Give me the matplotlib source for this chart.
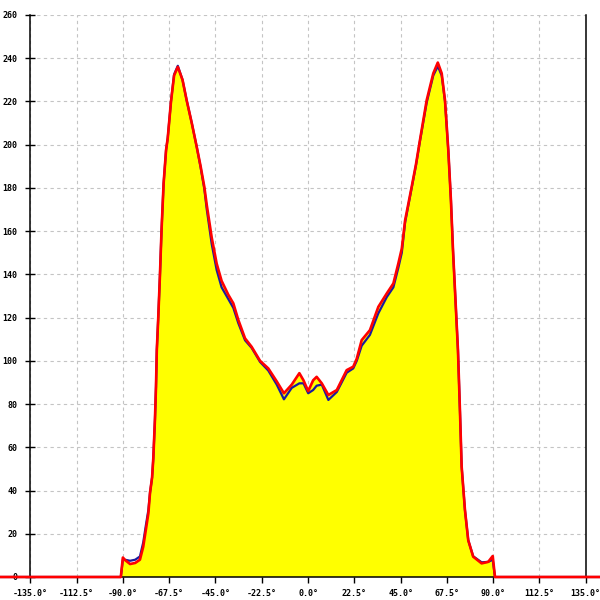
import matplotlib
matplotlib.use("Agg")
import matplotlib.pyplot as plt

angle = [-150, -91.0, -90.0, -89.0, -86.5, -84.0, -81.7, -80.1, -78.8, -77.6, -76.8,
         -75.8, -75.2, -74.4, -73.9, -73.5, -72.8, -72.0, -71.2, -70.2, -69.0, -68.2,
         -66.6, -65.1, -63.3, -61.0, -59.0, -56.5, -54.1, -52.2, -50.4, -49.2, -46.8,
         -44.4, -42.0, -38.7, -36.3, -33.9, -30.6, -27.4, -23.3, -19.3, -15.2, -11.7,
         -7.9, -4.2, -2.2, 0.1, 2.5, 4.2, 6.7, 9.9, 14.0, 18.8, 22.0, 23.7, 26.1, 30.1,
         34.2, 38.3, 41.5, 43.9, 45.6, 47.2, 50.4, 52.5, 54.4, 57.7, 60.9, 63.1, 65.0,
         66.6, 68.2, 69.5, 70.5, 71.7, 72.9, 73.9, 74.7, 76.3, 77.9, 80.3, 84.4, 87.6,
         89.8, 90.9, 145]

red = [0, 0, 9, 7.9, 6, 6.5, 8, 14, 22, 29.5, 39,
       46, 55, 73, 88, 105, 120, 139, 160.5, 182, 197.5, 203,
       220, 232, 236, 230, 220.6, 210, 199, 190, 180.5, 172, 157,
       145, 137, 130.5, 126.6, 119, 110.4, 106.5, 100, 96.5, 90.5, 85,
       89, 94.3, 91, 86, 91, 92.6, 89.6, 84.2, 86.5, 95.7, 97.3, 101, 109.6, 114.2,
       125, 131.2, 135.8, 145, 152, 165, 180.5, 191, 202, 220.6, 233, 238, 233,
       220.6, 197.5, 174, 151, 128, 105, 76, 51, 31, 17, 9.4, 6.3, 7,
       9.7, 0, 0]

blue = [0, 0, 8, 8, 7.5, 8, 9.5, 16, 24, 31, 39,
        46, 55, 73, 88, 105, 120, 139, 160.5, 182, 197.5, 203,
        220, 232.5, 236.5, 230, 220.6, 210, 199, 189.5, 179.5, 170, 154,
        142, 134, 128.5, 124.5, 117.5, 109.5, 106, 99.5, 95.5, 89, 82.2,
        87.5, 89.6, 89.6, 85, 86.5, 88.5, 89, 81.9, 85.6, 94.5, 96.5, 100, 107, 112,
        122, 129.5, 134, 143, 150, 164, 180, 190.5, 201.5, 219.5, 232, 236.3, 232,
        220, 197.5, 174, 151, 128, 105, 76, 51, 31, 17, 9.6, 6.8, 7,
        8, 0, 0]

xticks = [-135.0, -112.5, -90.0, -67.5, -45.0, -22.5, 0.0, 22.5, 45.0, 67.5, 90.0, 112.5, 135.0]
xtick_labels = ["-135.0°", "-112.5°", "-90.0°", "-67.5°", "-45.0°", "-22.5°", "0.0°",
                "22.5°", "45.0°", "67.5°", "90.0°", "112.5°", "135.0°"]
yticks = list(range(0, 261, 20))
ytick_labels = [str(v) for v in yticks]

fig = plt.figure(figsize=(6, 6), dpi=100)
W = H = 600.0
left, right, top, bottom = 30.3, 585.7, 15.0, 577.0
ax = fig.add_axes([left / W, 1 - bottom / H, (right - left) / W, (bottom - top) / H])
ax.set_xlim(-135, 135)
ax.set_ylim(0, 260)

ax.fill_between(angle, 0, red, color="#ffff00", linewidth=0, zorder=2, clip_on=False)
ax.plot(angle, blue, color="#1a1aa0", linewidth=1.6, zorder=3, clip_on=False)
ax.plot(angle, red, color="#ff0000", linewidth=1.9, zorder=4, clip_on=False)

ax.set_xticks(xticks)
ax.set_xticklabels(xtick_labels)
ax.set_yticks(yticks)
ax.set_yticklabels(ytick_labels)

ax.grid(True, color="#c4c4c4", linestyle=(0, (3, 3)), linewidth=0.8, zorder=1)
ax.set_axisbelow(True)

ax.spines["top"].set_visible(False)
for s in ["left", "right", "bottom"]:
    ax.spines[s].set_color("black")
    ax.spines[s].set_linewidth(1.1)

for lab in ax.get_xticklabels() + ax.get_yticklabels():
    lab.set_fontfamily("DejaVu Sans Mono")
    lab.set_fontweight("bold")
    lab.set_fontsize(6)

ax.tick_params(axis="y", direction="inout", length=7, width=1.0, pad=6, colors="black")
ax.tick_params(axis="x", direction="out", length=4, width=1.0, pad=5, colors="black")

fig.savefig("out.png", dpi=100)
